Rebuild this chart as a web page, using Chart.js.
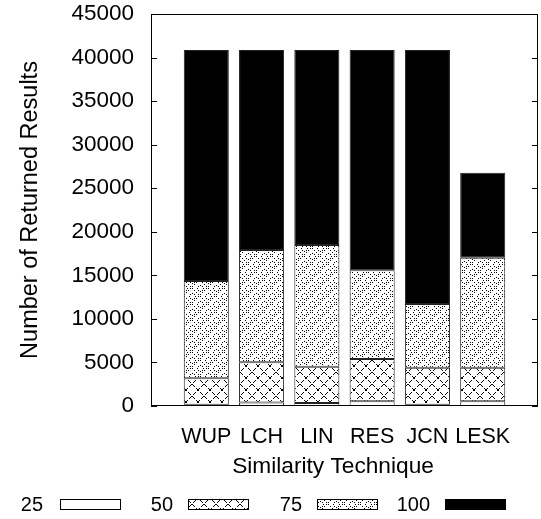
<!DOCTYPE html>
<html>
<head>
<meta charset="utf-8">
<script src="https://cdn.jsdelivr.net/npm/chart.js@4.4.0/dist/chart.umd.min.js"></script>
<style>
html, body { margin: 0; padding: 0; background: #fff; }
#wrap { width: 541px; height: 519px; }
</style>
</head>
<body>
<div id="wrap"><canvas id="simChart" width="541" height="519"></canvas></div>
<script>
// Returned results per similarity technique, split by threshold
var techniques = ['WUP', 'LCH', 'LIN', 'RES', 'JCN', 'LESK'];
var seriesNames = ['25', '50', '75', '100'];
var res25 = [150, 400, 350, 550, 150, 550];
var res50 = [3030, 4620, 4160, 4850, 4250, 3850];
var res75 = [11170, 12890, 13970, 10180, 7310, 12620];
var res100 = [26520, 22960, 22390, 25290, 29160, 9760];
var yMax = 45000;
var yStep = 5000;

var FONT = 'Liberation Sans, Arial, Helvetica, sans-serif';
Chart.defaults.color = '#000';
Chart.defaults.font.family = FONT;

var canvas = document.getElementById('simChart');
var ctx = canvas.getContext('2d');

// small hatch tiles for the 50 / 75 bars
function makePattern(size, draw) {
    var c = document.createElement('canvas');
    c.width = size;
    c.height = size;
    var g = c.getContext('2d');
    g.fillStyle = '#fff';
    g.fillRect(0, 0, size, size);
    g.fillStyle = '#000';
    draw(g, size);
    return ctx.createPattern(c, 'repeat');
}

// dashed diagonal cross-hatch
var pat50 = makePattern(12, function (g, s) {
    for (var i = 0; i < s; i++) {
        if (i % 4 == 3) continue;
        g.fillRect(i, i, 1, 1);
        g.fillRect(s - 1 - i, i, 1, 1);
    }
});

// dotted diamonds with a ring of dots inside each one
var pat75 = makePattern(16, function (g, s) {
    for (var i = 0; i < s; i += 2) {
        g.fillRect(i, i, 1, 1);
        g.fillRect(s - 2 - i, i, 1, 1);
    }
    var ring = [[3, 0], [-3, 0], [0, 3], [0, -3], [2, 2], [-2, 2], [2, -2], [-2, -2]];
    [[8, 0], [0, 8]].forEach(function (ctr) {
        ring.forEach(function (p) {
            g.fillRect((ctr[0] + p[0] + s) % s, (ctr[1] + p[1] + s) % s, 1, 1);
        });
    });
});

var fills = ['#fff', pat50, pat75, '#000'];
var values = [res25, res50, res75, res100];

// empty slot at each end so the bars sit where the original ones do
var labels = [''].concat(techniques, ['']);
function pad(arr) { return [null].concat(arr, [null]); }

var framePlugin = {
    id: 'frame',
    afterDatasetsDraw: function (chart) {
        var a = chart.chartArea;
        var c = chart.ctx;
        var y = chart.scales.y;
        c.save();
        c.strokeStyle = '#000';
        c.lineWidth = 1;
        c.strokeRect(a.left + 0.5, a.top + 0.5, a.right - a.left - 1, a.bottom - a.top - 1);
        c.beginPath();
        y.ticks.forEach(function (t) {
            var py = Math.round(y.getPixelForValue(t.value)) + 0.5;
            c.moveTo(a.left, py); c.lineTo(a.left + 6, py);
            c.moveTo(a.right - 6, py); c.lineTo(a.right, py);
        });
        c.stroke();

        // x axis title
        c.font = '22.7px ' + FONT;
        c.fillStyle = '#000';
        c.textAlign = 'center';
        c.textBaseline = 'middle';
        c.fillText('Similarity Technique', 333, 467);

        // legend row: label then sample box
        var textRight = [43, 173, 302, 430];
        var boxLeft = [60, 188, 317, 445];
        c.font = '20px ' + FONT;
        c.textAlign = 'right';
        seriesNames.forEach(function (n, i) {
            c.fillStyle = '#000';
            c.fillText(n, textRight[i], 505);
            c.fillStyle = fills[i];
            c.fillRect(boxLeft[i], 499, 61, 11);
            c.strokeStyle = '#000';
            c.strokeRect(boxLeft[i] + 0.5, 499.5, 60, 10);
        });
        c.restore();
    }
};

var simChart = new Chart(ctx, {
    type: 'bar',
    data: {
        labels: labels,
        datasets: seriesNames.map(function (n, i) {
            return {
                label: n,
                data: pad(values[i]),
                backgroundColor: fills[i],
                borderColor: '#222',
                borderWidth: 1,
                borderSkipped: false,
                barPercentage: 0.815,
                categoryPercentage: 1
            };
        })
    },
    options: {
        responsive: false,
        animation: false,
        layout: { padding: { top: 14, right: 3, left: 0, bottom: 0 } },
        plugins: {
            legend: { display: false },
            tooltip: { enabled: false }
        },
        scales: {
            x: {
                stacked: true,
                offset: false,
                grid: { display: false, drawTicks: false },
                border: { display: false },
                ticks: { font: { size: 21.5 }, padding: 18, maxRotation: 0, autoSkip: false },
                afterFit: function (s) {
                    s.height = 113;
                    s.paddingLeft = 0;
                    s.paddingRight = 0;
                }
            },
            y: {
                stacked: true,
                min: 0,
                max: yMax,
                grid: { display: false, drawTicks: false },
                border: { display: false },
                ticks: {
                    stepSize: yStep,
                    font: { size: 22.5 },
                    padding: 17,
                    callback: function (v) { return String(v); }
                },
                title: {
                    display: true,
                    text: 'Number of Returned Results',
                    font: { size: 23.5 },
                    padding: { top: 16, bottom: 0 }
                },
                afterFit: function (s) {
                    s.width = 151;
                    s.paddingTop = 0;
                    s.paddingBottom = 0;
                }
            }
        }
    },
    plugins: [framePlugin]
});
</script>
</body>
</html>
